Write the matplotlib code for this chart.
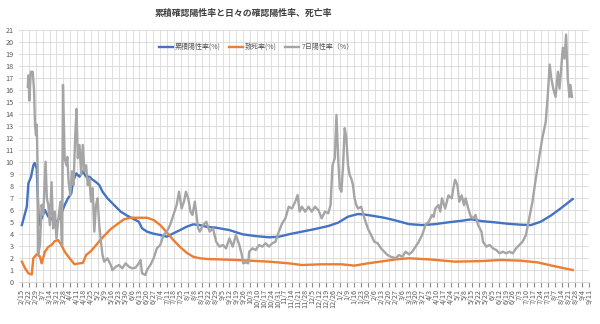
import matplotlib.pyplot as plt
import pandas as pd

plt.rcParams['font.family'] = ['Noto Sans CJK JP', 'DejaVu Sans']

start = pd.Timestamp('2020-02-15')

# 累積陽性率 (day offset, %)
cum_day = [0, 5, 6.6, 9.3, 11.6, 13, 15, 17.3, 20, 23.3, 26.7, 30, 33.3, 36.7, 40, 43.3,
           46.7, 50, 51.6, 55, 58.3, 61.6, 65, 68.3, 71.6, 75, 78.3, 81.6, 86.6, 93.3,
           100, 106.6, 113.3, 118.3, 121.6, 126.6, 133.3, 140, 146.6, 153.3, 160, 166.6,
           173.3, 180, 186.6, 196.6, 210, 223.3, 236.6, 250, 260, 270, 283.3, 296.6, 310,
           320, 330, 340, 346.6, 356.6, 366.6, 378.3, 391.6, 405, 418.3, 431.6, 445, 455,
           465, 478.3, 491.6, 505, 515, 525, 535, 545, 557.3]
cum_val = [4.72, 6.25, 8.2, 8.75, 9.7, 9.9, 9.45, 4.72, 5.28, 5.97, 5.42, 5.28, 4.86, 5.14,
           5.7, 6.39, 6.95, 7.36, 8.3, 9.03, 8.75, 9.2, 8.75, 8.75, 8.5, 8.3, 8.06, 7.5,
           6.95, 6.39, 5.84, 5.5, 5.22, 5.0, 4.45, 4.17, 4.0, 3.89, 3.75, 4.03, 4.3, 4.58,
           4.78, 4.72, 4.58, 4.5, 4.3, 3.95, 3.8, 3.7, 3.75, 3.95, 4.17, 4.39, 4.64, 4.92,
           5.42, 5.64, 5.6, 5.47, 5.33, 5.1, 4.8, 4.72, 4.8, 4.95, 5.08, 5.2, 5.05, 4.95,
           4.83, 4.75, 4.72, 5.0, 5.5, 6.1, 6.89]

# 致死率
cfr_day = [0, 3.3, 6.6, 10, 11.6, 15, 18.3, 20, 23.3, 26.7, 30, 33.3, 36.7, 40, 43.3, 48.3,
           53.3, 58.3, 61.6, 65, 70, 76.6, 83.3, 90, 96.6, 103.3, 110, 118.3, 126.6, 133.3,
           140, 146.6, 153.3, 160, 166.6, 173.3, 180, 188.3, 216.6, 250, 270, 283.3, 303.3,
           323.3, 336.6, 350, 366.6, 378.3, 391.6, 411.6, 438.3, 465, 485, 505, 521.6,
           538.3, 557.3]
cfr_val = [1.67, 1.11, 0.7, 0.6, 1.95, 2.28, 2.1, 1.53, 2.5, 2.9, 3.06, 3.39, 3.47, 3.06,
           2.5, 1.95, 1.45, 1.53, 1.56, 2.22, 2.56, 3.2, 3.83, 4.39, 4.8, 5.2, 5.33, 5.33,
           5.33, 5.14, 4.72, 4.11, 3.47, 2.9, 2.42, 2.08, 1.95, 1.89, 1.81, 1.67, 1.53,
           1.39, 1.45, 1.45, 1.34, 1.53, 1.72, 1.86, 1.95, 1.86, 1.67, 1.72, 1.81, 1.75,
           1.61, 1.3, 0.97]

# 7日陽性率
pos7_day = [6, 6.6, 7.6, 9, 11, 12.3, 13.3, 14.3, 15, 16, 16.6, 18.3, 20, 21.6, 24, 25.3,
            26.7, 28.3, 30, 31.6, 33.3, 35, 36.6, 39, 40.6, 41.6, 43.3, 45, 46, 47.3, 49,
            50.6, 52.3, 54, 55.3, 56.6, 58.3, 60, 61.6, 63.3, 65, 66.6, 68.3, 70, 71.6,
            73.3, 75, 76.6, 78.3, 80, 81.6, 83.3, 86.6, 90, 91.6, 95, 98.3, 101.6, 105,
            108.3, 111.6, 115, 118.3, 120, 121.6, 125, 126.6, 130, 133.3, 136.6, 140,
            143.3, 146.6, 150, 153.3, 156.6, 159, 161.6, 164, 166, 168.3, 170.6, 172.6,
            175, 176.6, 178.3, 180, 183.3, 186.6, 190, 193.3, 196.6, 200, 203.3, 206.6,
            210, 213.3, 216.6, 220, 222.6, 224, 226.6, 229, 230, 233.3, 236.6, 240, 243.3,
            246.6, 250, 253.3, 256.6, 260, 263.3, 266.6, 270, 273.3, 276.6, 279, 281,
            283.3, 286.6, 290, 293.3, 296.6, 300, 303.3, 306.6, 310, 312.3, 314.3, 316.6,
            318.3, 320, 321.6, 323.3, 325, 326.6, 328.3, 330, 331.6, 333.3, 335, 336.6,
            338.3, 340, 343.3, 346.6, 350, 353.3, 356.6, 360, 363.3, 366.6, 370, 373.3,
            378.3, 381.6, 385, 388.3, 391.6, 395, 398.3, 401.6, 405, 408.3, 411.6, 415,
            416.6, 418.3, 421.6, 423.3, 425, 428.3, 431.6, 435, 436.6, 438.3, 440.6, 442.6,
            445, 447.3, 449, 451.6, 454.3, 456.6, 459, 461.6, 465, 466.6, 470, 473.3,
            476.6, 480, 483.3, 486.6, 490, 493.3, 496.6, 500, 503.3, 506.6, 510, 513.3,
            516.6, 520, 523.3, 526.6, 530, 532.3, 534, 535.6, 537.6, 540, 542.3, 544,
            545.6, 547.3, 549, 550.6, 552.3, 554, 555, 556.6]
pos7_val = [16.25, 17.2, 15.1, 17.5, 17.5, 16.0, 13.1, 12.2, 13.1, 9.45, 2.25, 3.06, 6.4,
            5.56, 10.0, 6.95, 6.4, 4.72, 8.3, 4.45, 5.84, 3.61, 5.0, 6.67, 3.06, 16.4,
            10.3, 9.7, 10.4, 8.3, 7.2, 9.2, 8.06, 12.2, 14.4, 10.3, 11.4, 8.9, 11.4, 9.2,
            9.7, 8.06, 8.6, 6.67, 7.8, 4.17, 6.4, 6.95, 4.72, 3.33, 2.22, 1.67, 1.95, 1.39,
            0.97, 1.25, 1.39, 1.11, 1.53, 1.25, 1.11, 1.17, 1.53, 1.81, 0.7, 0.56, 0.97,
            1.39, 1.95, 2.78, 3.06, 3.89, 4.17, 4.72, 5.56, 6.4, 7.5, 6.1, 6.67, 7.5, 6.95,
            5.84, 5.56, 6.67, 5.56, 4.45, 4.17, 4.72, 5.0, 4.17, 4.45, 3.33, 2.92,
            3.06, 2.78, 3.61, 2.92, 3.89, 3.06, 2.22, 1.53, 1.61, 1.53, 2.5, 2.78, 2.64,
            3.06, 2.92, 3.2, 2.92, 3.2, 3.33, 4.17, 4.86, 5.28, 6.25, 6.1, 6.67, 7.22, 5.84,
            6.25, 5.84, 6.25, 5.84, 6.25, 5.97, 5.28, 5.84, 5.7, 6.39, 9.7, 10.3, 13.9,
            10.3, 7.8, 7.5, 9.7, 12.8, 12.0, 9.7, 8.9, 8.6, 8.06, 6.95, 6.4, 6.1, 6.25,
            5.28, 4.45, 3.89, 3.33, 3.2, 2.78, 2.5, 2.22, 2.08, 1.95, 2.22, 2.08, 2.5, 2.28,
            2.5, 2.92, 3.33, 3.89, 4.72, 5.0, 5.56, 5.4, 6.1, 6.39, 5.84, 6.95, 6.1, 7.2,
            6.95, 7.8, 8.5, 8.06, 6.67, 7.2, 6.39, 6.95, 6.1, 5.42, 5.28, 5.56, 4.72, 4.17,
            3.33, 2.92, 3.06, 2.78, 2.64, 2.36, 2.5, 2.36, 2.5, 2.36, 2.78, 3.06, 3.33,
            3.89, 5.28, 6.67, 8.61, 10.3, 12.0, 13.3, 15.8, 18.1, 17.0, 16.1, 15.4, 17.5,
            16.1, 17.8, 19.5, 18.6, 20.6, 17.0, 15.4, 16.4, 15.4]

tick_dates = pd.date_range(start, periods=83, freq='7D')
tick_labels = [f"{d.month}/{d.day}" for d in tick_dates]

to_date = lambda days: start + pd.to_timedelta(days, unit='D')

fig = plt.figure(figsize=(6, 3.24), dpi=100)
ax = fig.add_axes([0.032, 0.1306, 0.95, 0.7775])

ax.plot(to_date(cum_day), cum_val, color='#4472C4', lw=1.7, label='累積陽性率(%)')
ax.plot(to_date(cfr_day), cfr_val, color='#ED7D31', lw=1.7, label='致死率(%)')
ax.plot(to_date(pos7_day), pos7_val, color='#A5A5A5', lw=1.7, label='7日陽性率（%）')

ax.set_ylim(0, 21)
ax.set_yticks(range(0, 22))
ax.set_xlim(to_date(-2.7), to_date(567.3))
ax.set_xticks(tick_dates)
ax.set_xticklabels(tick_labels, rotation=90, fontsize=5.2, color='#595959')
ax.tick_params(axis='y', labelsize=5.2, colors='#595959', length=0, pad=4)
ax.tick_params(axis='x', length=3.5, color='#8c8c8c', pad=1.5)
ax.grid(True, color='#d9d9d9', lw=0.6)
ax.set_axisbelow(True)
for s in ['top', 'right', 'left']:
    ax.spines[s].set_visible(False)
ax.spines['bottom'].set_color('#d9d9d9')

ax.legend(loc='upper center', bbox_to_anchor=(0.416, 0.972), ncol=3, frameon=False,
          fontsize=5.0, labelcolor='#595959', handlelength=2.0, columnspacing=1.2,
          handletextpad=0.3)

fig.text(0.405, 0.958, '累積確認陽性率と日々の確認陽性率、死亡率', ha='center', va='center',
         fontsize=6.4, fontweight='bold', color='#404040')

fig.savefig('out.png', dpi=100)
